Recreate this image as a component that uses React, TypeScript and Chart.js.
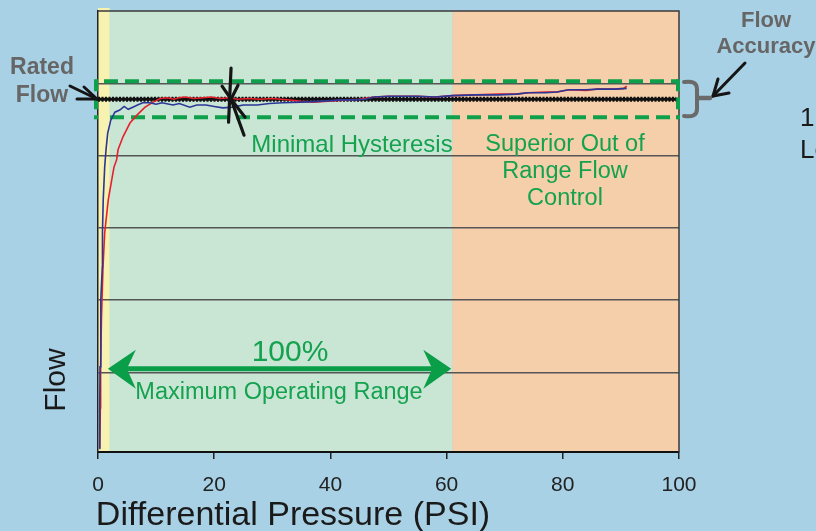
import { useEffect, useRef } from "react";
import { Chart, registerables } from "chart.js";

Chart.register(...registerables);

// ---- data ----
const pressureTicks = [0, 20, 40, 60, 80, 100];
const flowGridValues = [1, 2, 3, 4, 5];

const bluePsi = [0.2, 0.3, 0.35, 0.45, 0.5, 0.74, 0.77, 0.9, 1.15, 1.38, 1.67, 2.2, 2.9, 3.75, 4.5, 5.2, 6.0, 6.8, 7.7, 8.9, 10, 11, 12.9, 14, 15.8, 17, 18.6, 20, 21.5, 23.2, 25, 27.4, 29.5, 31.8, 35, 38, 40, 42, 44, 46, 47.5, 50, 52, 55, 58, 61, 65, 69, 72, 74, 77, 79, 81, 84, 86, 89, 91];
const blueFlow = [-0.05, 0.5, 1.08, 1.6, 2.0, 2.46, 2.93, 3.39, 3.84, 4.08, 4.31, 4.49, 4.6, 4.63, 4.68, 4.64, 4.67, 4.7, 4.73, 4.73, 4.71, 4.73, 4.7, 4.72, 4.67, 4.7, 4.7, 4.68, 4.66, 4.67, 4.7, 4.7, 4.72, 4.73, 4.74, 4.75, 4.76, 4.77, 4.77, 4.78, 4.81, 4.82, 4.82, 4.82, 4.81, 4.83, 4.84, 4.84, 4.85, 4.87, 4.87, 4.88, 4.91, 4.91, 4.92, 4.92, 4.93];

const redPsi = [0.3, 0.4, 0.45, 0.6, 0.86, 1.15, 1.77, 2.75, 3.2, 3.45, 4.3, 5.5, 6.7, 8.1, 9.5, 10.7, 12, 13, 14, 15, 16.5, 18, 19.5, 21, 22.7, 24, 26, 28, 30, 33, 35, 37, 39, 41, 43, 45, 47.5, 50, 53, 55, 58, 61, 65, 69, 72, 74, 77, 79, 81, 84, 86, 89, 90.5, 91];
const redFlow = [-0.05, 0.51, 1.08, 1.76, 2.46, 2.93, 3.39, 3.84, 3.94, 4.08, 4.26, 4.45, 4.56, 4.67, 4.74, 4.79, 4.8, 4.78, 4.8, 4.81, 4.79, 4.8, 4.81, 4.79, 4.8, 4.78, 4.79, 4.78, 4.79, 4.77, 4.75, 4.74, 4.75, 4.76, 4.77, 4.78, 4.81, 4.82, 4.82, 4.82, 4.81, 4.83, 4.84, 4.85, 4.85, 4.87, 4.88, 4.88, 4.91, 4.9, 4.92, 4.92, 4.93, 4.96];

const ratedPsi = [0, 99.5];
const ratedFlowValue = 4.78;
const accuracyBand = [4.53, 5.03];
const lowRangeBand = [0, 2];
const operatingBand = [2, 61];
const outOfRangeBand = [61, 100];
const operatingArrow = [1.7, 60.8];
const operatingArrowFlow = 1.05;
const hysteresisPoint = [22.9, 4.78];

const FONT = '"Liberation Sans", Arial, Helvetica, sans-serif';

export default function App() {
  const ref = useRef<HTMLCanvasElement>(null);

  useEffect(() => {
    document.body.style.margin = "0";
    const canvas = ref.current;
    if (!canvas) return;

    const line = (ctx: CanvasRenderingContext2D, pts: number[][]) => {
      ctx.beginPath();
      ctx.moveTo(pts[0][0], pts[0][1]);
      for (let i = 1; i < pts.length; i++) ctx.lineTo(pts[i][0], pts[i][1]);
      ctx.stroke();
    };

    const deco = {
      id: "deco",
      beforeDraw(chart: any) {
        const { ctx, chartArea: a, scales } = chart;
        const xs = scales.x;
        ctx.save();
        ctx.fillStyle = "#a9d1e5";
        ctx.fillRect(0, 0, chart.width, chart.height);
        const band = (r: number[], c: string, extra: number) => {
          const x0 = xs.getPixelForValue(r[0]);
          const x1 = xs.getPixelForValue(r[1]);
          ctx.fillStyle = c;
          ctx.fillRect(x0, a.top - extra, x1 - x0, a.bottom - a.top + extra);
        };
        band(operatingBand, "#c9e6d5", 0);
        band(outOfRangeBand, "#f5cfaa", 0);
        band(lowRangeBand, "#f8f2b0", 3);
        ctx.restore();
      },
      beforeDatasetsDraw(chart: any) {
        const { ctx, chartArea: a, scales } = chart;
        const xs = scales.x;
        const ys = scales.y;
        ctx.save();
        // top & right frame
        ctx.strokeStyle = "#3a3a3a";
        ctx.lineWidth = 1.5;
        line(ctx, [[a.left, a.top], [a.right, a.top], [a.right, a.bottom]]);
        // accuracy dashed box
        const yT = ys.getPixelForValue(accuracyBand[1]);
        const yB = ys.getPixelForValue(accuracyBand[0]);
        const xL = xs.getPixelForValue(0) - 2;
        const xR = xs.getPixelForValue(100) - 1;
        ctx.strokeStyle = "#0ea04a";
        ctx.lineWidth = 4;
        ctx.setLineDash([14, 7]);
        line(ctx, [[xL + 8, yT], [xR, yT]]);
        line(ctx, [[xL + 14, yB], [xR, yB]]);
        ctx.setLineDash([12, 6]);
        line(ctx, [[xL, yT - 2], [xL, yB + 2]]);
        line(ctx, [[xR, yT - 2], [xR, yB + 2]]);
        ctx.setLineDash([]);
        ctx.restore();
      },
      afterDatasetsDraw(chart: any) {
        const { ctx, scales } = chart;
        const xs = scales.x;
        const ys = scales.y;
        ctx.save();
        ctx.lineCap = "round";
        // hysteresis marker
        const cx = xs.getPixelForValue(hysteresisPoint[0]);
        const cy = ys.getPixelForValue(hysteresisPoint[1]);
        ctx.strokeStyle = "#151515";
        ctx.lineWidth = 3.2;
        line(ctx, [[cx, cy - 31], [cx - 2.5, cy + 23]]);
        line(ctx, [[cx - 9, cy - 13], [cx, cy], [cx + 7, cy - 14]]);
        line(ctx, [[cx, cy], [cx + 13, cy + 36]]);
        line(ctx, [[cx, cy], [cx + 14, cy + 18]]);

        // rated flow arrow
        ctx.lineWidth = 3;
        line(ctx, [[77, 99], [97, 99]]);
        line(ctx, [[70, 86], [97, 99]]);
        line(ctx, [[84, 87], [97, 99]]);

        // flow accuracy arrow
        line(ctx, [[745, 63], [713, 96]]);
        line(ctx, [[718, 79], [713, 96], [729, 93]]);

        // bracket
        ctx.strokeStyle = "#6a6a6a";
        ctx.lineWidth = 4;
        ctx.beginPath();
        ctx.moveTo(684, 82);
        ctx.quadraticCurveTo(697, 80, 697, 89);
        ctx.lineTo(697, 109);
        ctx.quadraticCurveTo(697, 118, 684, 116);
        ctx.stroke();
        ctx.lineWidth = 4.5;
        line(ctx, [[698, 98], [710, 98]]);

        // operating range double arrow
        const ax0 = xs.getPixelForValue(operatingArrow[0]);
        const ax1 = xs.getPixelForValue(operatingArrow[1]);
        const ay = ys.getPixelForValue(operatingArrowFlow);
        ctx.fillStyle = "#0b9e49";
        ctx.strokeStyle = "#0b9e49";
        ctx.lineCap = "butt";
        ctx.lineWidth = 5;
        line(ctx, [[ax0 + 15, ay], [ax1 - 15, ay]]);
        const head = (tx: number, dir: number) => {
          ctx.beginPath();
          ctx.moveTo(tx, ay);
          ctx.lineTo(tx + dir * 28, ay - 19);
          ctx.lineTo(tx + dir * 19, ay);
          ctx.lineTo(tx + dir * 28, ay + 20);
          ctx.closePath();
          ctx.fill();
        };
        head(ax0, 1);
        head(ax1, -1);

        // green texts
        ctx.textAlign = "center";
        ctx.textBaseline = "middle";
        ctx.fillStyle = "#14a24f";
        ctx.font = `24px ${FONT}`;
        ctx.fillText("Minimal Hysteresis", 352, 145);
        ctx.font = `23.5px ${FONT}`;
        ctx.fillText("Superior Out of", 565, 145);
        ctx.fillText("Range Flow", 565, 172);
        ctx.fillText("Control", 565, 199);
        ctx.fillText("Maximum Operating Range", 279, 393);
        ctx.font = `30px ${FONT}`;
        ctx.fillText("100%", 290, 353);

        // gray labels
        ctx.fillStyle = "#666666";
        ctx.font = `bold 23px ${FONT}`;
        ctx.fillText("Rated", 42, 68);
        ctx.fillText("Flow", 42, 96);
        ctx.font = `bold 22px ${FONT}`;
        ctx.fillText("Flow", 766, 21);
        ctx.fillText("Accuracy", 766, 47);

        // clipped text at right edge
        ctx.fillStyle = "#1a1a1a";
        ctx.font = `26px ${FONT}`;
        ctx.textAlign = "left";
        ctx.fillText("1", 800, 119);
        ctx.fillText("Lo", 800, 151);

        // axis titles
        ctx.textAlign = "center";
        ctx.font = `34px ${FONT}`;
        ctx.fillText("Differential Pressure (PSI)", 293, 516);
        ctx.save();
        ctx.translate(57, 380);
        ctx.rotate(-Math.PI / 2);
        ctx.font = `30px ${FONT}`;
        ctx.fillText("Flow", 0, 0);
        ctx.restore();
        ctx.restore();
      },
    };

    const toPts = (xsArr: number[], ysArr: number[]) => xsArr.map((v, i) => ({ x: v, y: ysArr[i] }));

    const chart = new Chart(canvas, {
      type: "line",
      data: {
        datasets: [
          {
            data: toPts(bluePsi, blueFlow),
            borderColor: "#2a3797",
            borderWidth: 1.6,
            pointRadius: 0,
          },
          {
            data: toPts(redPsi, redFlow),
            borderColor: "#e8202b",
            borderWidth: 1.6,
            pointRadius: 0,
          },
          {
            data: toPts(ratedPsi, [ratedFlowValue, ratedFlowValue]),
            borderColor: "#111111",
            borderWidth: 5,
            borderDash: [2, 1.5],
            pointRadius: 0,
          },
          {
            data: toPts(ratedPsi, [ratedFlowValue, ratedFlowValue]),
            borderColor: "#111111",
            borderWidth: 3,
            pointRadius: 0,
          },
        ],
      },
      options: {
        responsive: false,
        animation: false,
        devicePixelRatio: 1,
        layout: { padding: { left: 0, right: 137, top: 11, bottom: 0 } },
        plugins: { legend: { display: false }, tooltip: { enabled: false } },
        elements: { line: { tension: 0 } },
        scales: {
          x: {
            type: "linear",
            min: 0,
            max: 100,
            afterBuildTicks: (s: any) => {
              s.ticks = pressureTicks.map((v) => ({ value: v }));
            },
            afterFit: (s: any) => {
              s.height = 79;
            },
            grid: { drawOnChartArea: false, drawTicks: true, tickLength: 7, color: "#222", lineWidth: 1.5 },
            border: { color: "#111", width: 2 },
            ticks: { color: "#222", font: { size: 21, family: FONT }, padding: 14, maxRotation: 0, autoSkip: false },
          },
          y: {
            type: "linear",
            min: -0.1,
            max: 6,
            afterBuildTicks: (s: any) => {
              s.ticks = flowGridValues.map((v) => ({ value: v }));
            },
            afterFit: (s: any) => {
              s.width = 98;
            },
            grid: { drawTicks: false, color: "#555", lineWidth: 1.5 },
            border: { color: "#222", width: 1.5 },
            ticks: { display: false },
          },
        },
      },
      plugins: [deco],
    } as any);

    return () => chart.destroy();
  }, []);

  return (
    <div style={{ width: 816, height: 531 }}>
      <canvas ref={ref} width={816} height={531} style={{ display: "block" }} />
    </div>
  );
}
